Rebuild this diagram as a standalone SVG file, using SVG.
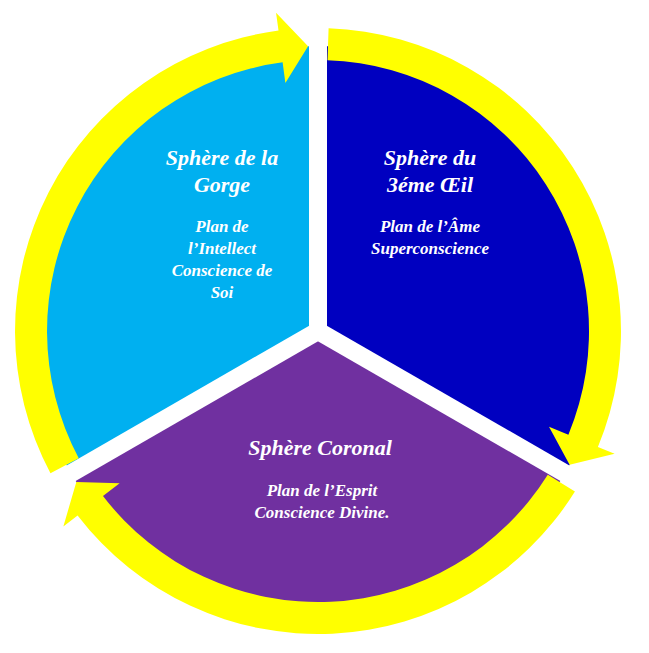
<svg xmlns="http://www.w3.org/2000/svg" width="649" height="653" viewBox="0 0 649 653">
<style>
.t{font-family:"Liberation Serif",serif;font-weight:bold;font-style:italic;fill:#fff;text-anchor:middle}
.h{font-size:22px}.s{font-size:17px}
.ring{fill:#FFFF00}
</style>
<defs>
<path id="arr" d="M328.6,28.2 A303,303 0 0 1 597.9,447 L614.6,453.8 L569.6,464.8 L549,426.7 L568.4,434.7 A271,271 0 0 0 327.5,60.2 Z"/>
</defs>
<rect width="649" height="653" fill="#fff"/>
<g id="sector-eye"><path d="M318,331 L318,46 A285,285 0 0 1 564.8,473.5 Z" fill="#0000C0"/></g>
<g id="sector-coronal"><path d="M318,331 L564.8,473.5 A285,285 0 0 1 71.2,473.5 Z" fill="#7030A0"/></g>
<g id="sector-gorge"><path d="M318,331 L71.2,473.5 A285,285 0 0 1 318,46 Z" fill="#00B0F0"/></g>
<g id="connectors">
<g stroke="#fff" stroke-width="18">
<line x1="318" y1="331" x2="318" y2="20"/>
<line x1="318" y1="331" x2="587" y2="486"/>
<line x1="318" y1="331" x2="49" y2="486"/>
</g>
<use href="#arr" class="ring"/>
<use href="#arr" class="ring" transform="rotate(120 318 331)"/>
<use href="#arr" class="ring" transform="rotate(240 318 331)"/>
</g>
<g id="label-gorge">
<text class="t h" x="222" y="165">Sphère de la</text>
<text class="t h" x="222" y="192">Gorge</text>
<text class="t s" x="222" y="232">Plan de</text>
<text class="t s" x="222" y="254">l’Intellect</text>
<text class="t s" x="222" y="276">Conscience de</text>
<text class="t s" x="222" y="298">Soi</text>
</g>
<g id="label-eye">
<text class="t h" x="430" y="165">Sphère du</text>
<text class="t h" x="430" y="192">3éme Œil</text>
<text class="t s" x="430" y="232">Plan de l’Âme</text>
<text class="t s" x="430" y="254">Superconscience</text>
</g>
<g id="label-coronal">
<text class="t h" x="320" y="455">Sphère Coronal</text>
<text class="t s" x="322" y="496">Plan de l’Esprit</text>
<text class="t s" x="322" y="518">Conscience Divine.</text>
</g>
</svg>
